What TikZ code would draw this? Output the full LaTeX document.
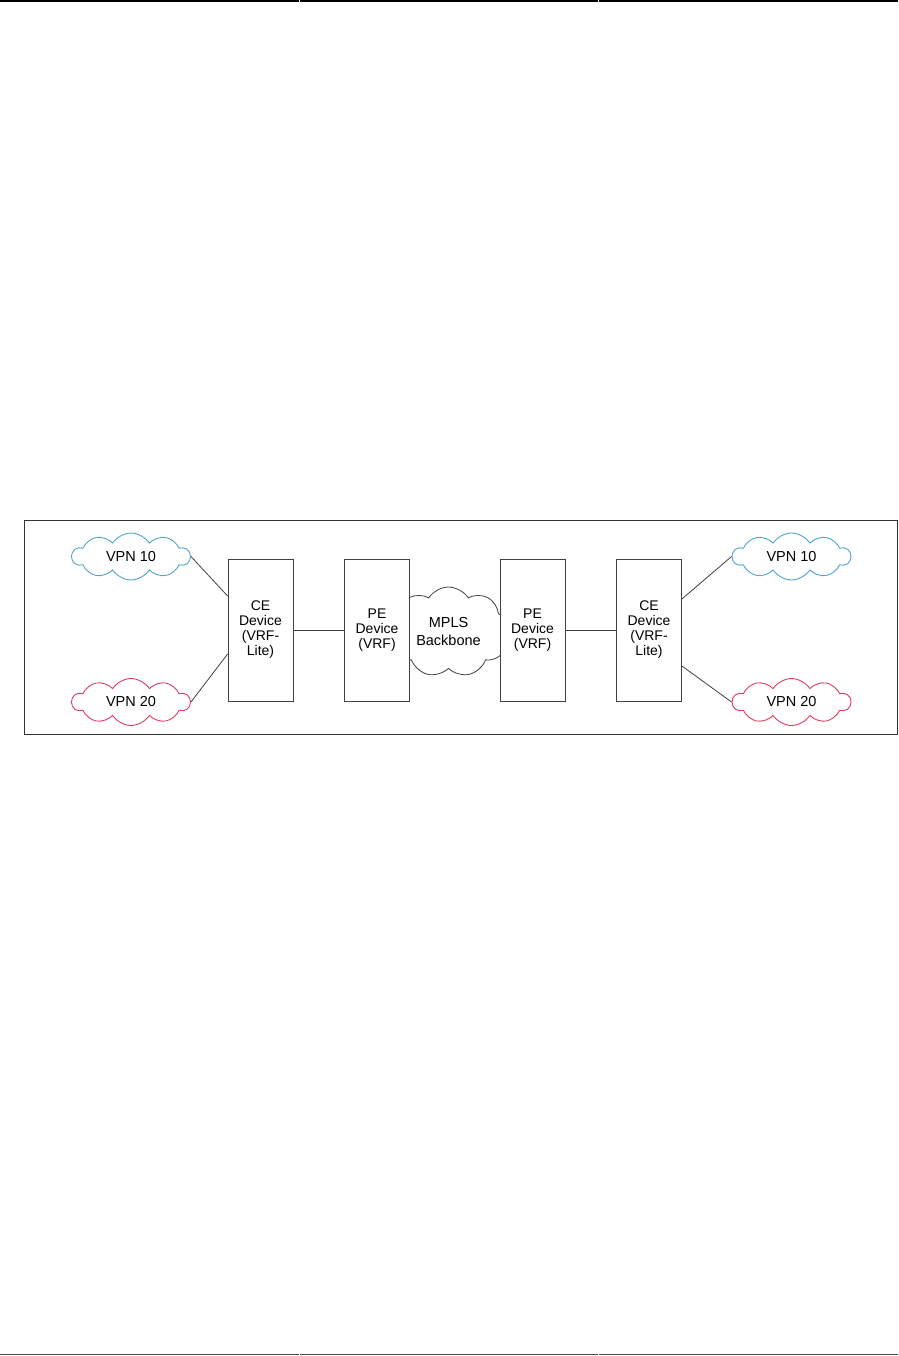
\documentclass[tikz,border=0pt]{standalone}
\usepackage{fontspec}
\setmainfont{Liberation Sans}
\usetikzlibrary{shapes.symbols,calc}
\definecolor{vpnblue}{RGB}{80,165,205}
\definecolor{vpnred}{RGB}{225,60,95}
\definecolor{linegray}{RGB}{64,64,64}
\definecolor{framegray}{RGB}{50,50,50}
\begin{document}
\begin{tikzpicture}[x=1pt,y=-1pt,
  device/.style={draw=linegray, fill=white, line width=0.8pt, minimum width=65pt,
    minimum height=142pt, inner sep=0pt, align=center,
    font=\fontsize{14}{15}\selectfont},
  vpncloud/.style={cloud, cloud puffs=10, cloud puff arc=115, cloud ignores aspect,
    minimum width=118pt, minimum height=47pt, inner sep=0pt, line width=0.9pt,
    fill=white, font=\fontsize{14.5}{16}\selectfont},
  link/.style={draw=linegray, line width=0.8pt},
  rule/.style={line width=1.8pt},
]
\useasboundingbox (0,0) rectangle (898,1356);
% page rules
\draw[rule] (0,1) -- (298.5,1);
\draw[rule] (299.5,1) -- (597.5,1);
\draw[rule] (598.5,1) -- (898,1);
\draw[line width=1pt, draw=black!70] (0,1354.5) -- (298.5,1354.5);
\draw[line width=1pt, draw=black!70] (299.5,1354.5) -- (597.5,1354.5);
\draw[line width=1pt, draw=black!70] (598.5,1354.5) -- (898,1354.5);
% frame
\draw[draw=framegray, line width=1pt] (24.5,520.5) rectangle (897,734);
% backbone cloud
\node[cloud, cloud puffs=9, cloud puff arc=115, cloud ignores aspect, draw=linegray,
  line width=0.8pt, fill=white, minimum width=122pt, minimum height=90pt,
  inner sep=0pt, align=center, font=\fontsize{14.5}{18}\selectfont]
  (mpls) at (448.5,632) {MPLS\\Backbone};
% devices
\node[device] (ce1) at (260.5,630) {CE\\Device\\(VRF-\\Lite)};
\node[device] (pe1) at (377,630) {PE\\Device\\(VRF)};
\node[device] (pe2) at (532.5,630) {PE\\Device\\(VRF)};
\node[device] (ce2) at (649,630) {CE\\Device\\(VRF-\\Lite)};
% VPN clouds
\node[vpncloud, draw=vpnblue] (v10l) at (131,556.5) {VPN 10};
\node[vpncloud, draw=vpnred] (v20l) at (131,702) {VPN 20};
\node[vpncloud, draw=vpnblue] (v10r) at (791.5,556.5) {VPN 10};
\node[vpncloud, draw=vpnred] (v20r) at (791.5,702) {VPN 20};
% links
\draw[link] (v10l.east) -- ([yshift=34pt]ce1.west);
\draw[link] (v20l.east) -- ([yshift=-24pt]ce1.west);
\draw[link] (ce1.east) -- (pe1.west);
\draw[link] (pe2.east) -- (ce2.west);
\draw[link] ([yshift=31pt]ce2.east) -- (v10r.west);
\draw[link] ([yshift=-36pt]ce2.east) -- (v20r.west);
\end{tikzpicture}
\end{document}
